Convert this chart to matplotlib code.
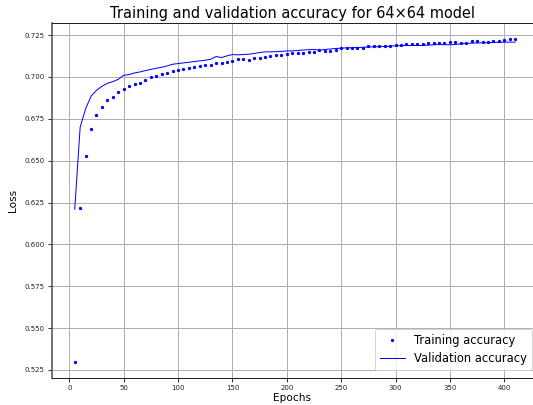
import numpy as np
import matplotlib
matplotlib.use("Agg")
import matplotlib.pyplot as plt

epochs = list(range(5, 415, 5))

train_acc = [
    0.530, 0.6215, 0.6525, 0.669, 0.677, 0.682, 0.6862, 0.688, 0.6908, 0.693,
    0.6944, 0.6958, 0.6962, 0.6984, 0.7001, 0.7008, 0.7015, 0.7022, 0.7034, 0.7042,
    0.7048, 0.7053, 0.7062, 0.7065, 0.7071, 0.7072, 0.7083, 0.7083, 0.709, 0.7094,
    0.7106, 0.7108, 0.7104, 0.7114, 0.7114, 0.7122, 0.7128, 0.7132, 0.7132, 0.7138,
    0.7142, 0.7146, 0.7146, 0.7148, 0.7148, 0.716, 0.7156, 0.7156, 0.716, 0.7172,
    0.7172, 0.717, 0.717, 0.7172, 0.7184, 0.7184, 0.7184, 0.7184, 0.7186, 0.7192,
    0.719, 0.7194, 0.7198, 0.7198, 0.7196, 0.72, 0.72, 0.72, 0.7204, 0.7208,
    0.7208, 0.7204, 0.7204, 0.7212, 0.7212, 0.721, 0.721, 0.7214, 0.7214, 0.722,
    0.7226, 0.7226,
]

val_acc = [
    0.621, 0.670, 0.681, 0.6885, 0.692, 0.6944, 0.6962, 0.6972, 0.6986, 0.7010,
    0.7014, 0.7024, 0.7030, 0.7038, 0.7045, 0.7052, 0.7058, 0.7066, 0.7076, 0.7080,
    0.7084, 0.7088, 0.7092, 0.7096, 0.7100, 0.7106, 0.7122, 0.7116, 0.7126, 0.7134,
    0.7132, 0.7134, 0.7136, 0.7140, 0.7146, 0.7150, 0.7150, 0.7151, 0.7153, 0.7155,
    0.7156, 0.7158, 0.7161, 0.7163, 0.7164, 0.7160, 0.7164, 0.7167, 0.7170, 0.7172,
    0.7174, 0.7175, 0.7176, 0.7177, 0.7179, 0.7180, 0.7181, 0.7182, 0.7184, 0.7186,
    0.7187, 0.7188, 0.7188, 0.7188, 0.7188, 0.7190, 0.7192, 0.7194, 0.7193, 0.7192,
    0.7194, 0.7198, 0.7200, 0.7202, 0.7203, 0.7204, 0.7204, 0.7206, 0.7207, 0.7208,
    0.7208, 0.7208,
]

title = "Training and validation accuracy for 64×64 model"

W, H = 533, 405
fig = plt.figure(figsize=(W / 72, H / 72), dpi=72)
ax = fig.add_axes([52 / W, 1 - 377.7 / H, (W - 52) / W, (377.7 - 23) / H])

ax.plot(epochs, train_acc, 'b.', markersize=4.5, label='Training accuracy')
ax.plot(epochs, val_acc, 'b', linewidth=1, label='Validation accuracy')

ax.set_title(title, fontsize=14.5, pad=5)
ax.set_xlabel('Epochs', fontsize=10.5, labelpad=2)
ax.set_ylabel('Loss', fontsize=10.5, labelpad=6)
ax.set_yticks(np.arange(0.525, 0.7251, 0.025))
ax.set_xticks(np.arange(0, 401, 50))
ax.tick_params(labelsize=7, length=4, width=1, colors='#333333', labelcolor='#222222')
ax.grid(True, color='#b0b0b0', linewidth=1)
ax.set_axisbelow(True)
for s in ax.spines.values():
    s.set_color('#222222')
    s.set_linewidth(1)
ax.spines['right'].set_visible(False)
ax.spines['left'].set_color('#555555')
ax.spines['left'].set_linewidth(1.6)

ax.set_xlim(-15.9, (W - 69.3) / 1.0875)
leg = ax.legend(loc='lower right', fontsize=11.5, framealpha=0.8, edgecolor='#cccccc',
                borderaxespad=0, handlelength=2.2)
leg.set_bbox_to_anchor((531.7 / W, 1 - 370 / H), transform=fig.transFigure)

fig.savefig('out.png', dpi=72)
